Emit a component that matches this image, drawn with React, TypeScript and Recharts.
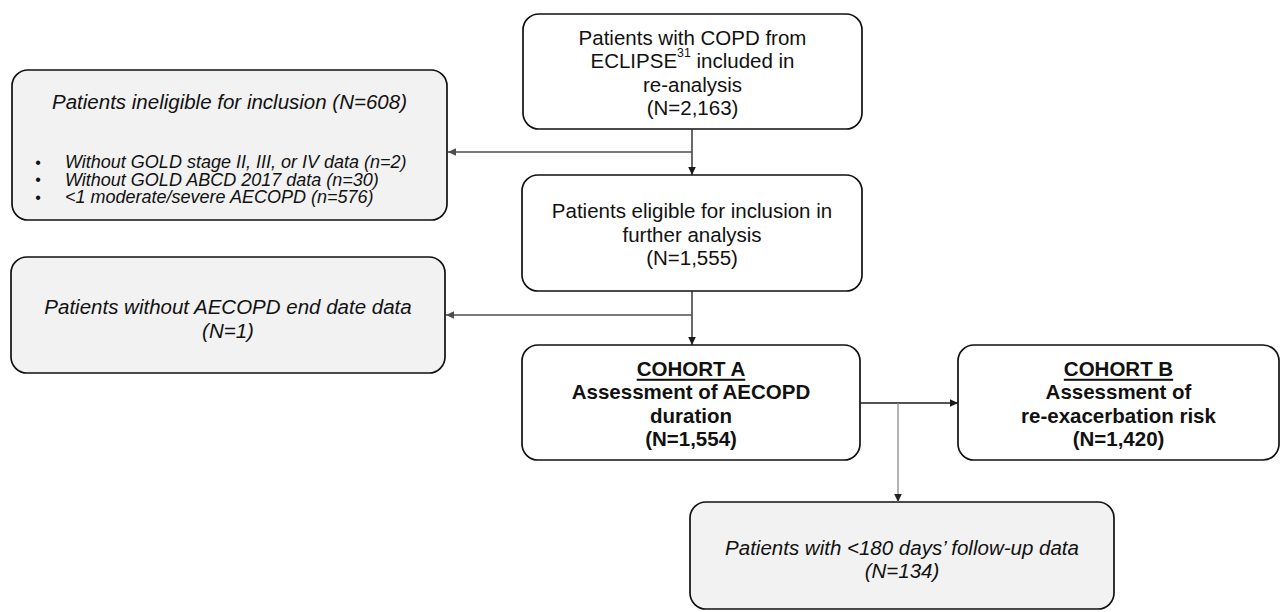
import { ScatterChart, XAxis, YAxis, ReferenceArea, ReferenceLine, ReferenceDot } from "recharts";

const FONT = '"Liberation Sans", Arial, Helvetica, sans-serif';

// flow steps
const stepIds = ["screened", "eligible", "cohortA", "cohortB", "ineligible", "noEndDate", "shortFollowUp"];
const stepKinds = ["main", "main", "cohort", "cohort", "excluded", "excluded", "excluded"];
const stepHeadings = ["", "", "COHORT A", "COHORT B", "", "", ""];
const stepLines = [
    ["Patients with COPD from", "ECLIPSE^31^ included in", "re-analysis"],
    ["Patients eligible for inclusion in", "further analysis"],
    ["Assessment of AECOPD", "duration"],
    ["Assessment of", "re-exacerbation risk"],
    ["Patients ineligible for inclusion"],
    ["Patients without AECOPD end date data"],
    ["Patients with <180 days\u2019 follow-up data"],
];
const stepCounts = [2163, 1555, 1554, 1420, 608, 1, 134];

const exclusionReasons = [
    "Without GOLD stage II, III, or IV data",
    "Without GOLD ABCD 2017 data",
    "<1 moderate/severe AECOPD",
];
const exclusionCounts = [2, 30, 576];

// layout (chart units, same as pixels)
const stepX1 = [523, 522, 522, 958, 12, 11, 690];
const stepX2 = [862, 862, 860, 1279, 447, 445, 1114];
const stepY1 = [14, 175, 345, 345, 70, 257, 502];
const stepY2 = [129, 291, 460, 460, 220, 373, 609];

const links = [
    {x1: 692, y1: 129, x2: 692, y2: 175, dir: "down", color: "#1a1a1a"},
    {x1: 692, y1: 152, x2: 448, y2: 152, dir: "left", color: "#4d4d4d"},
    {x1: 692, y1: 291, x2: 692, y2: 345, dir: "down", color: "#1a1a1a"},
    {x1: 692, y1: 315, x2: 446, y2: 315, dir: "left", color: "#4d4d4d"},
    {x1: 860, y1: 403, x2: 958, y2: 403, dir: "right", color: "#1a1a1a"},
    {x1: 898, y1: 403, x2: 898, y2: 502, dir: "down", color: "#8c8c8c"},
];

const fmt = (n: number) => n.toLocaleString("en-US");

function richLine(s: string, fontSize: number) {
    const parts = s.split("^");
    return parts.map((p, k) =>
        k % 2 === 1 ? (
            <tspan key={k} fontSize={fontSize * 0.6} dy={-fontSize * 0.35}>{p}</tspan>
        ) : (
            <tspan key={k} dy={k > 0 ? fontSize * 0.35 : 0}>{p}</tspan>
        )
    );
}

function stepShape(i: number) {
    return (props: any) => {
        const {x, y, width, height} = props;
        const kind = stepKinds[i];
        const cx = x + width / 2;
        const fontSize = 20.5;
        const lh = 23.5;
        const fill = kind === "excluded" ? "#f2f2f2" : "#ffffff";
        const rect = (
            <rect x={x} y={y} width={width} height={height} rx={16} ry={16}
                  fill={fill} stroke="#111" strokeWidth={1.7}/>
        );

        if (stepIds[i] === "ineligible") {
            return (
                <g>
                    {rect}
                    <text x={cx} y={y + 31} textAnchor="middle" dominantBaseline="central"
                          fontFamily={FONT} fontSize={fontSize} fontStyle="italic" fill="#111">
                        {`${stepLines[i][0]} (N=${fmt(stepCounts[i])})`}
                    </text>
                    {exclusionReasons.map((r, k) => (
                        <g key={r}>
                            <text x={x + 26} y={y + 92 + k * 17.5} textAnchor="middle" dominantBaseline="central"
                                  fontFamily={FONT} fontSize={16} fill="#111">{"\u2022"}</text>
                            <text x={x + 53} y={y + 92 + k * 17.5} dominantBaseline="central"
                                  fontFamily={FONT} fontSize={18} fontStyle="italic" fill="#111">
                                {`${r} (n=${fmt(exclusionCounts[k])})`}
                            </text>
                        </g>
                    ))}
                </g>
            );
        }

        const lines: {text: string, underline?: boolean}[] = [];
        if (stepHeadings[i]) lines.push({text: stepHeadings[i], underline: true});
        stepLines[i].forEach((t) => lines.push({text: t}));
        lines.push({text: `(N=${fmt(stepCounts[i])})`});

        const mid = y + height / 2 + (kind === "excluded" ? 3 : 0.5);
        const top = mid - ((lines.length - 1) * lh) / 2;

        return (
            <g>
                {rect}
                {lines.map((l, k) => (
                    <text key={k} x={cx} y={top + k * lh} textAnchor="middle" dominantBaseline="central"
                          fontFamily={FONT} fontSize={fontSize}
                          fontWeight={kind === "cohort" ? "bold" : "normal"}
                          fontStyle={kind === "excluded" ? "italic" : "normal"}
                          textDecoration={l.underline ? "underline" : undefined}
                          fill="#111">
                        {richLine(l.text, fontSize)}
                    </text>
                ))}
            </g>
        );
    };
}

function arrowHead(dir: string, color: string) {
    return (props: any) => {
        const {cx, cy} = props;
        const len = 8;
        const hw = 3.8;
        let pts = "";
        if (dir === "down") pts = `${cx},${cy} ${cx - hw},${cy - len} ${cx + hw},${cy - len}`;
        if (dir === "left") pts = `${cx},${cy} ${cx + len},${cy - hw} ${cx + len},${cy + hw}`;
        if (dir === "right") pts = `${cx},${cy} ${cx - len},${cy - hw} ${cx - len},${cy + hw}`;
        return <polygon points={pts} fill={color === "#8c8c8c" ? "#222" : color}/>;
    };
}

export default function App() {
    return (
        <div style={{position: "absolute", left: 0, top: 0, background: "#fff"}}>
            <ScatterChart width={1282} height={612} margin={{top: 0, right: 0, bottom: 0, left: 0}}>
                <XAxis type="number" dataKey="x" domain={[0, 1282]} allowDataOverflow hide/>
                <YAxis type="number" dataKey="y" domain={[0, 612]} allowDataOverflow reversed hide/>

                {links.map((l, k) => (
                    <ReferenceLine key={`l${k}`}
                                   segment={[{x: l.x1, y: l.y1}, {x: l.x2, y: l.y2}]}
                                   stroke={l.color} strokeWidth={1.3} ifOverflow="visible"/>
                ))}

                {stepIds.map((id, i) => (
                    <ReferenceArea key={id} x1={stepX1[i]} x2={stepX2[i]} y1={stepY1[i]} y2={stepY2[i]}
                                   ifOverflow="visible" shape={stepShape(i)}/>
                ))}

                {links.map((l, k) => (
                    <ReferenceDot key={`a${k}`} x={l.x2} y={l.y2} r={4} ifOverflow="visible"
                                  shape={arrowHead(l.dir, l.color)}/>
                ))}
            </ScatterChart>
        </div>
    );
}
